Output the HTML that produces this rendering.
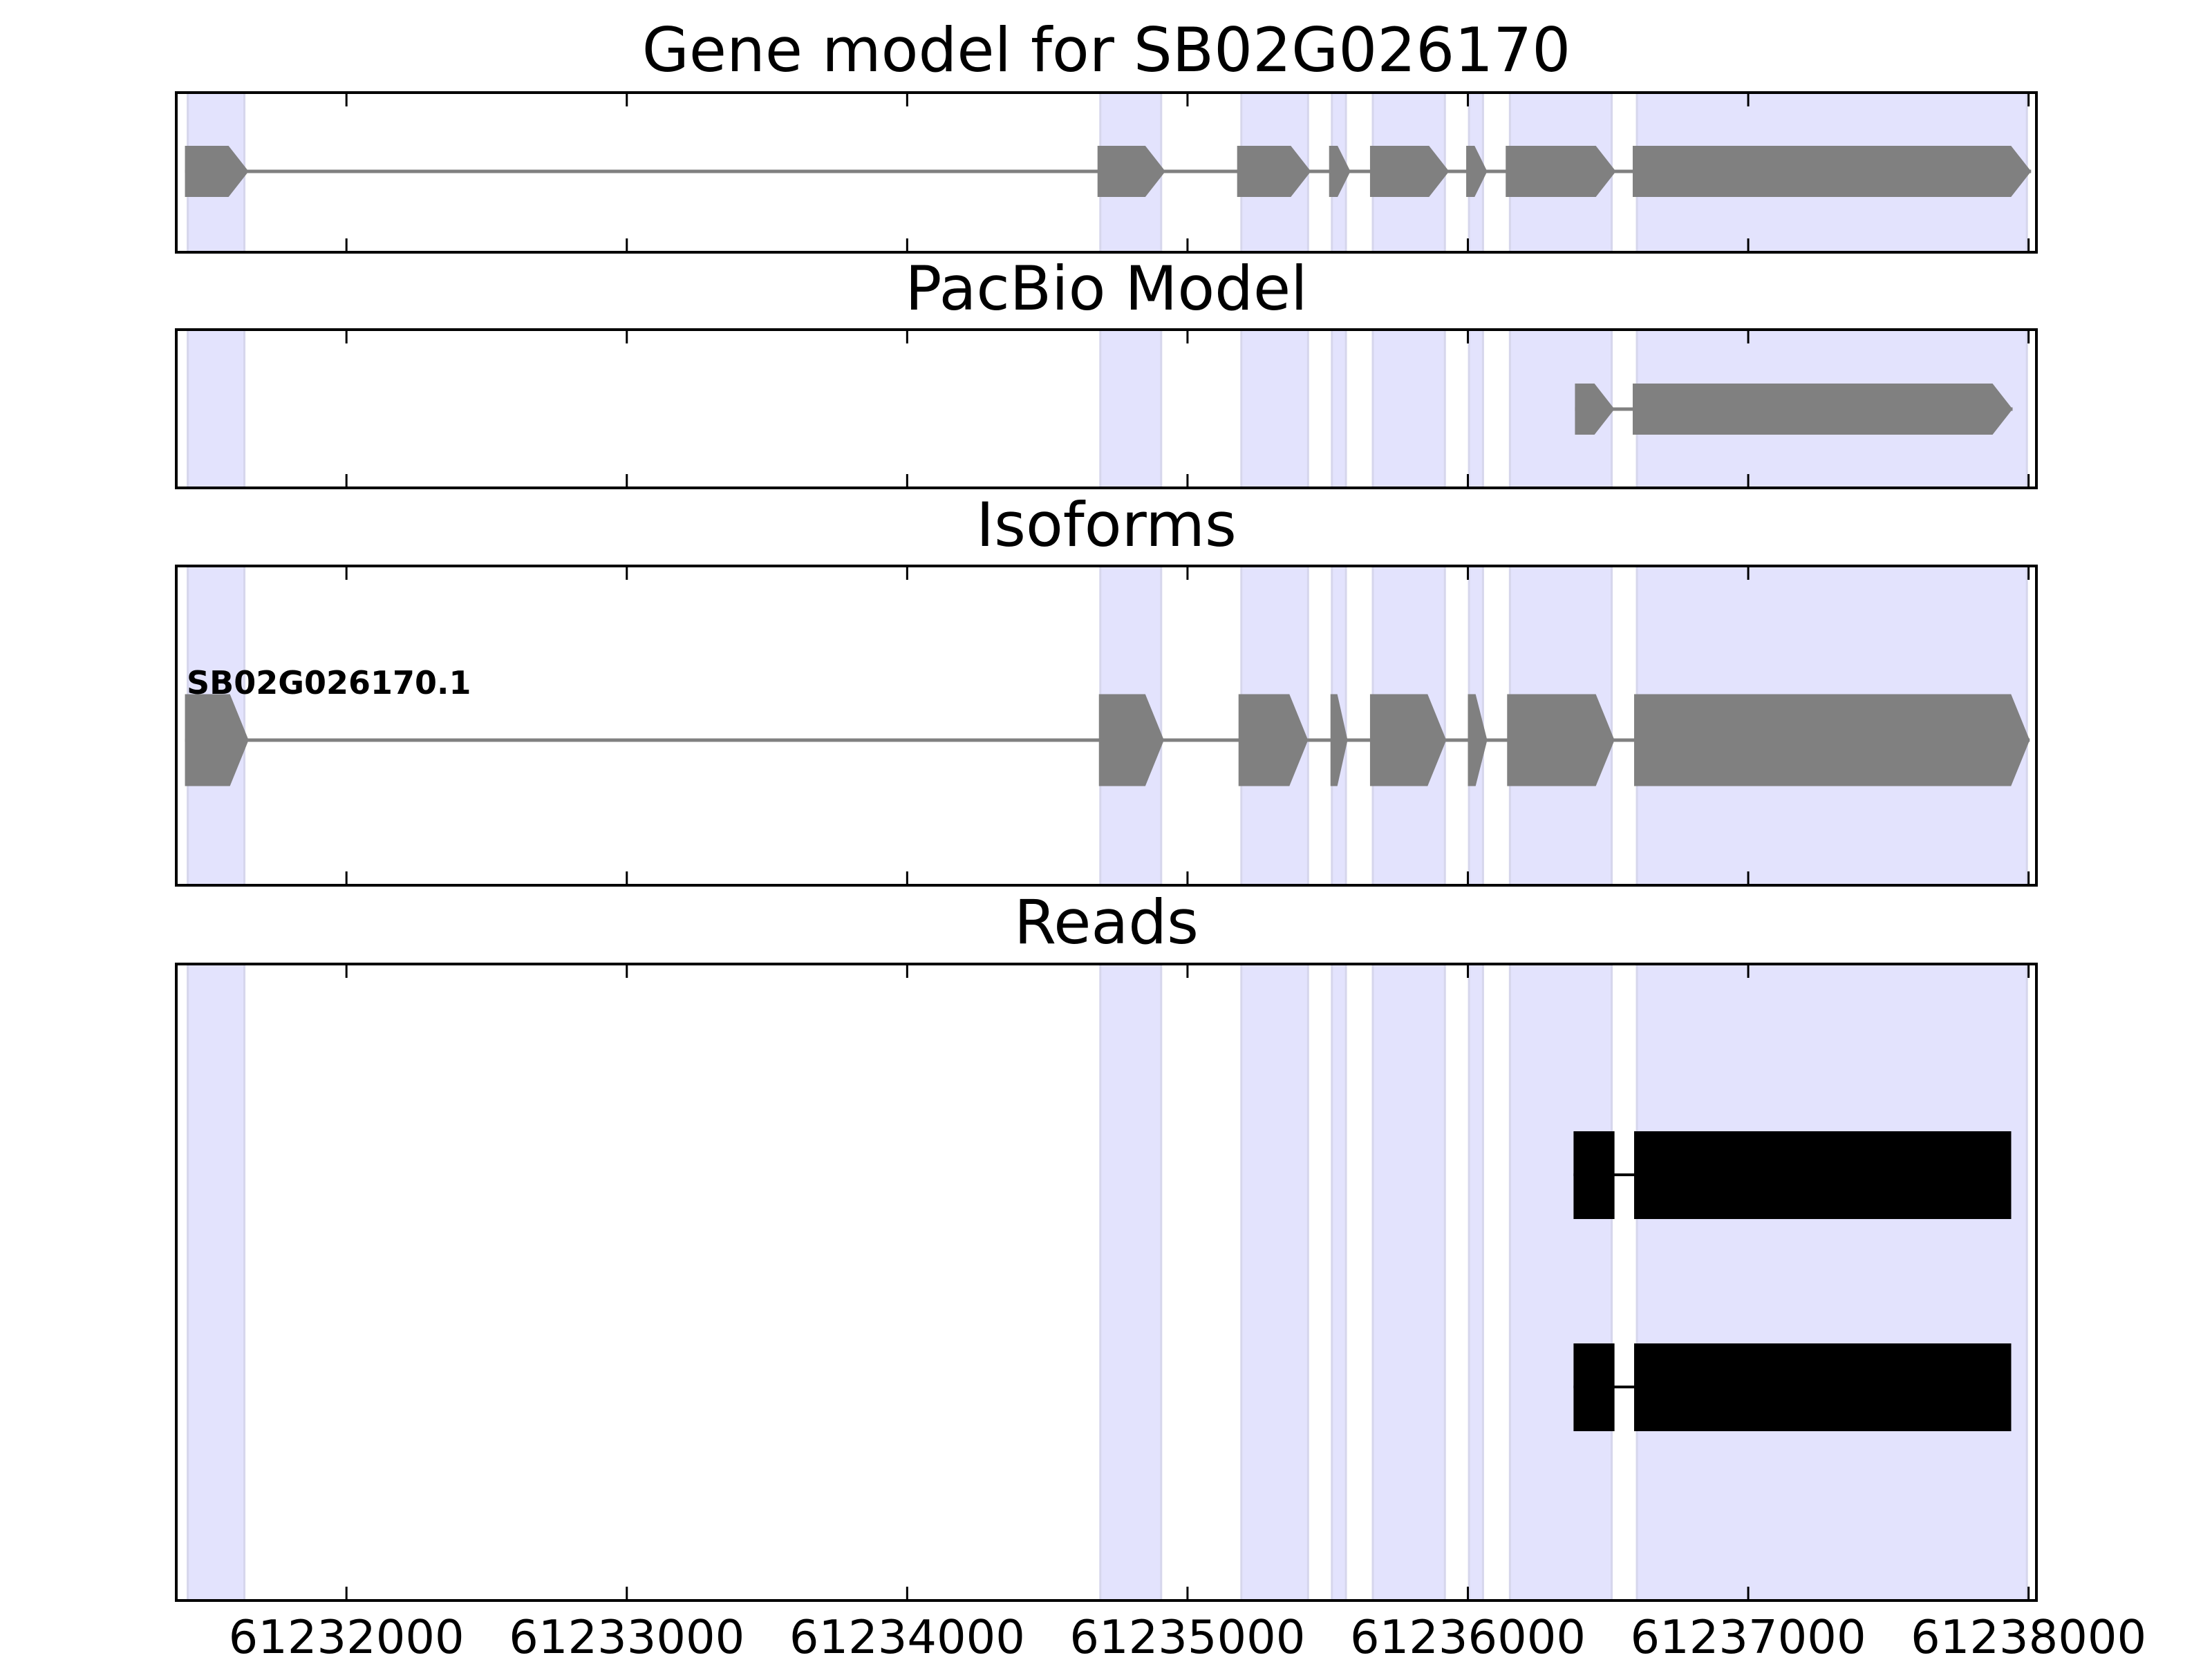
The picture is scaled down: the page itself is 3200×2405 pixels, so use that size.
<!DOCTYPE html>
<html><head><meta charset="utf-8"><style>
html,body{margin:0;padding:0;background:#fff;}
svg text{font-family:"DejaVu Sans","Liberation Sans",sans-serif;}
</style></head><body>
<svg id="chart" xmlns="http://www.w3.org/2000/svg" width="3200" height="2400" viewBox="0 0 3200 2400"></svg>
<script>
const tickValues = [61232000,61233000,61234000,61235000,61236000,61237000,61238000];
const tickLabels = ["61232000","61233000","61234000","61235000","61236000","61237000","61238000"];
const shadeStarts = [61231434,61234689,61235192,61235515,61235661,61236004,61236150,61236603];
const shadeEnds   = [61231636,61234906,61235430,61235565,61235918,61236054,61236513,61237994];
const geneExonStarts = [61231424,61234679,61235177,61235505,61235651,61235994,61236135,61236588];
const geneExonEnds   = [61231651,61234921,61235440,61235581,61235933,61236069,61236528,61238009];
const pacExonStarts = [61236382,61236588];
const pacExonEnds   = [61236523,61237943];
const isoExonStarts = [61231424,61234684,61235182,61235510,61235651,61236000,61236140,61236593];
const isoExonEnds   = [61231651,61234916,61235430,61235571,61235923,61236069,61236523,61238004];
const isoLabel = "SB02G026170.1";
const readRows = [0,1];
const readStarts = [[61236377,61236593],[61236377,61236593]];
const readEnds   = [[61236523,61237938],[61236523,61237938]];

const NS="http://www.w3.org/2000/svg";
const svg=document.getElementById('chart');
const X0=255, X1=2946, D0=61231393, D1=61238028;
function xs(v){return X0+(v-D0)/(D1-D0)*(X1-X0);}
function el(tag,attrs,parent){const e=document.createElementNS(NS,tag);for(const k in attrs)e.setAttribute(k,attrs[k]);(parent||svg).appendChild(e);return e;}

const panels=[
 {name:'gene-model-panel',title:'Gene model for SB02G026170',top:134,bot:365,tb:103},
 {name:'pacbio-model-panel',title:'PacBio Model',top:477,bot:706,tb:448},
 {name:'isoforms-panel',title:'Isoforms',top:819,bot:1281,tb:790},
 {name:'reads-panel',title:'Reads',top:1395,bot:2316,tb:1365}
];

function exonPath(s,e,cy,h,head,g){
  const x1=xs(s),x2=xs(e);
  const hl=Math.min(head,(x2-x1)*0.6);
  const p=`${x1},${cy-h/2} ${x2-hl},${cy-h/2} ${x2},${cy} ${x2-hl},${cy+h/2} ${x1},${cy+h/2}`;
  const poly=el('polygon',{points:p,fill:'#808080'},g);
  
  
}
function intron(a,b,cy,g,color,w){
  const l=el('line',{x1:xs(a),x2:xs(b),y1:cy,y2:cy,stroke:color,'stroke-width':w},g);
  
  
}

panels.forEach((p,pi)=>{
  const g=el('g',{});
  
  
  for(let i=0;i<shadeStarts.length;i++){
    const r=el('rect',{x:xs(shadeStarts[i]),y:p.top,width:xs(shadeEnds[i])-xs(shadeStarts[i]),height:p.bot-p.top,fill:'#e3e3fd',stroke:'#d6d6ec','stroke-width':3},g);
    
    
  }
  const t=el('text',{x:(X0+X1)/2,y:p.tb,'text-anchor':'middle','font-size':88,fill:'#000'},g);
  t.textContent=p.title;
  
  
  if(pi===0){
    const cy=248;
    intron(geneExonStarts[0],geneExonEnds[geneExonEnds.length-1],cy,g,'#808080',5);
    for(let i=0;i<geneExonStarts.length;i++) exonPath(geneExonStarts[i],geneExonEnds[i],cy,74,29,g);
  } else if(pi===1){
    const cy=592;
    intron(pacExonStarts[0],pacExonEnds[pacExonEnds.length-1],cy,g,'#808080',5);
    for(let i=0;i<pacExonStarts.length;i++) exonPath(pacExonStarts[i],pacExonEnds[i],cy,74,29,g);
  } else if(pi===2){
    const cy=1071;
    intron(isoExonStarts[0],isoExonEnds[isoExonEnds.length-1],cy,g,'#808080',5);
    for(let i=0;i<isoExonStarts.length;i++) exonPath(isoExonStarts[i],isoExonEnds[i],cy,133,27,g);
    const lt=el('text',{x:270,y:1004,'font-size':46,'font-weight':'bold',fill:'#000'},g);
    lt.textContent=isoLabel;
    
    
  } else {
    const rowY=[1700,2007];
    readRows.forEach((ri)=>{
      const cy=rowY[ri];
      const st=readStarts[ri], en=readEnds[ri];
      intron(st[0],en[en.length-1],cy,g,'#000',4);
      for(let i=0;i<st.length;i++){
        const r=el('rect',{x:xs(st[i]),y:cy-63,width:xs(en[i])-xs(st[i]),height:127,fill:'#000'},g);
        
        
      }
    });
  }
  tickValues.forEach((v,i)=>{
    const x=xs(v);
    el('line',{x1:x,x2:x,y1:p.top,y2:p.top+20,stroke:'#000','stroke-width':3},g);
    el('line',{x1:x,x2:x,y1:p.bot,y2:p.bot-20,stroke:'#000','stroke-width':3},g);
    if(pi===3){
      const tl=el('text',{x:x,y:2392,'text-anchor':'middle','font-size':67,fill:'#000'},g);
      tl.textContent=tickLabels[i];
      
      
    }
  });
  const fr=el('rect',{x:X0,y:p.top,width:X1-X0,height:p.bot-p.top,fill:'none',stroke:'#000','stroke-width':4},g);
  
  
});
</script>
</body></html>
